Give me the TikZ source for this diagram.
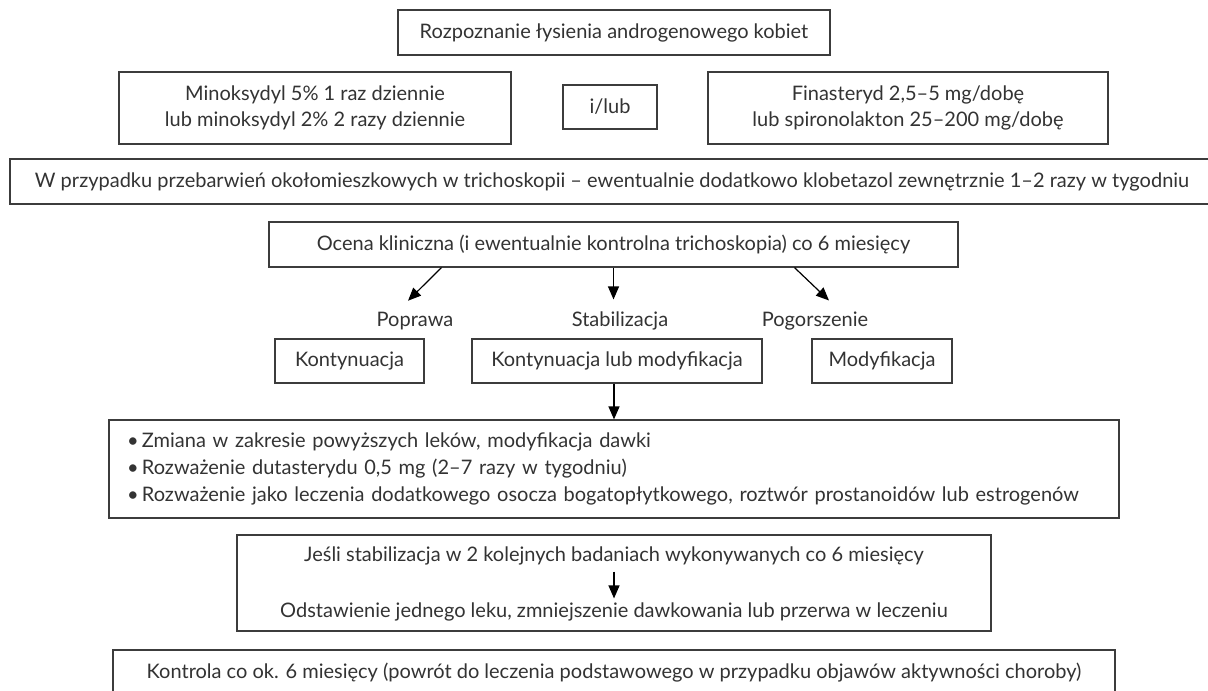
\documentclass[tikz,border=0pt]{standalone}
\usepackage{fontspec}
\setmainfont{Lato}
\usepackage{tikz}
\usetikzlibrary{positioning}
\usetikzlibrary{arrows.meta}
\usepackage{xcolor}
\definecolor{ink}{HTML}{333333}
\definecolor{frame}{HTML}{3C3C3C}

\begin{document}
\begin{tikzpicture}[x=0.5pt, y=-0.5pt,
    every node/.style={text=ink, font=\fontsize{10}{13}\selectfont},
    box/.style={draw=frame, line width=0.6pt, inner sep=0pt, align=center},
    lbl/.style={inner sep=0pt},
    arr/.style={-{Triangle[length=6.5pt,width=5.5pt]}, line width=0.6pt, black}]
    \fill[white] (0,0) rectangle (1208,690);
    \useasboundingbox (0,0) rectangle (1208,690);

    % Diagnosis
    \node[box, minimum width=216pt, minimum height=22.5pt] (rozpoznanie) at (614,32.5) {Rozpoznanie łysienia androgenowego kobiet};

    % First-line treatment
    \node[box, minimum width=196pt, minimum height=36pt] (minoksydyl) at (315,108) {Minoksydyl 5\% 1 raz dziennie\\lub minoksydyl 2\% 2 razy dziennie};
    \node[box, minimum width=47pt, minimum height=22pt] (ilub) at (610,107) {i/lub};
    \node[box, minimum width=200pt, minimum height=36pt] (finasteryd) at (908,108) {Finasteryd 2,5–5 mg/dobę\\lub spironolakton 25–200 mg/dobę};

    % Optional clobetasol
    \node[box, minimum width=602pt, minimum height=22.5pt] (klobetazol) at (612,181.5) {W przypadku przebarwień okołomieszkowych w trichoskopii – ewentualnie dodatkowo klobetazol zewnętrznie 1–2 razy w tygodniu};

    % Assessment every 6 months
    \node[box, minimum width=344.5pt, minimum height=22.5pt] (ocena) at (613.5,244.5) {Ocena kliniczna (i ewentualnie kontrolna trichoskopia) co 6 miesięcy};
    \node[lbl] (poprawa) at (415,321) {Poprawa};
    \node[lbl] (stabilizacja) at (620,321) {Stabilizacja};
    \node[lbl] (pogorszenie) at (815,321) {Pogorszenie};
    \draw[arr] ([xshift=-86pt]ocena.south) -- ([xshift=-3.5pt,yshift=5.5pt]poprawa.north);
    \draw[arr] (ocena.south) -- ([yshift=6pt]ocena.south |- stabilizacja.north);
    \draw[arr] ([xshift=90.5pt]ocena.south) -- ([xshift=7pt,yshift=5.5pt]pogorszenie.north);

    % Decisions
    \node[box, minimum width=74.5pt, minimum height=22pt] (kontynuacja) at (349.5,361) {Kontynuacja};
    \node[box, minimum width=145pt, minimum height=22pt] (kontmod) at (617,361) {Kontynuacja lub modyfikacja};
    \node[box, minimum width=70pt, minimum height=22pt] (modyfikacja) at (882,361) {Modyfikacja};

    % Modification options
    \node[box, text width=487pt, inner xsep=9pt, minimum height=49pt, align=left, font=\fontsize{10}{13.5}\selectfont] (zmiany) at (614,469) {\textbullet\,Zmiana w zakresie powyższych leków, modyfikacja dawki\\\textbullet\,Rozważenie dutasterydu 0,5 mg (2–7 razy w tygodniu)\\\textbullet\,Rozważenie jako leczenia dodatkowego osocza bogatopłytkowego, roztwór prostanoidów lub estrogenów};
    \draw[arr] (kontmod.south -| zmiany.north) -- (zmiany.north);

    % Tapering
    \node[box, minimum width=377pt, minimum height=48pt] (jesli) at (614,583) {};
    \node[lbl] (stabilnie) at (614,556) {Jeśli stabilizacja w 2 kolejnych badaniach wykonywanych co 6 miesięcy};
    \node[lbl] (odstawienie) at (614,612) {Odstawienie jednego leku, zmniejszenie dawkowania lub przerwa w leczeniu};
    \draw[arr] ([yshift=-3pt]stabilnie.south) -- ([yshift=2pt]odstawienie.north);

    % Follow-up
    \node[box, minimum width=501pt, minimum height=22.5pt] (kontrola) at (614,672.5) {Kontrola co ok. 6 miesięcy (powrót do leczenia podstawowego w przypadku objawów aktywności choroby)};
\end{tikzpicture}
\end{document}
